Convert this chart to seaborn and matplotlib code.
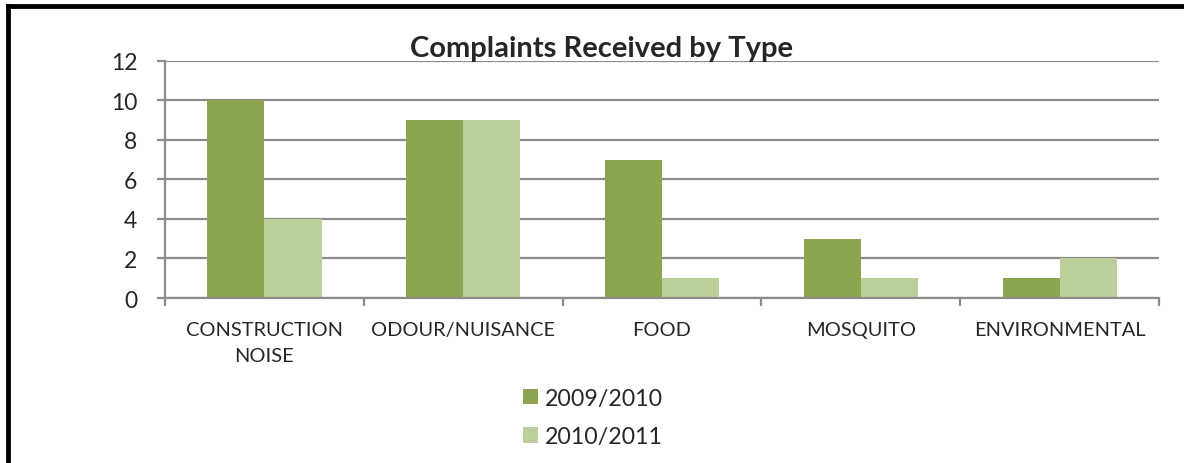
import numpy as np
import pandas as pd
import seaborn as sns
import matplotlib.pyplot as plt
from matplotlib.lines import Line2D

categories = ["CONSTRUCTION\nNOISE", "ODOUR/NUISANCE", "FOOD", "MOSQUITO", "ENVIRONMENTAL"]
years = ["2009/2010", "2010/2011"]
counts_0910 = [10, 9, 7, 3, 1]
counts_1011 = [4, 9, 1, 1, 2]
y_ticks = [0, 2, 4, 6, 8, 10, 12]

palette = ["#8ba64f", "#bbd098"]
grid_col = "#8c8c8c"

df = pd.DataFrame(
    {
        "type": categories * 2,
        "year": [years[0]] * len(categories) + [years[1]] * len(categories),
        "count": counts_0910 + counts_1011,
    }
)

sns.set_style("white")
plt.rcParams["font.family"] = ["Lato", "DejaVu Sans"]

fig = plt.figure(figsize=(11.84, 4.64), dpi=100)
ax = fig.add_axes([0.1394, 0.3556, 0.8395, 0.5108])

sns.barplot(
    data=df, x="type", y="count", hue="year", palette=palette,
    width=0.574, gap=0, edgecolor="none", linewidth=0, saturation=1, ax=ax,
)

# --- axes styling (Excel look)
ax.set_ylim(0, 12)
ax.set_xlim(-0.5, len(categories) - 0.5)
ax.set_yticks(y_ticks)
ax.set_yticklabels([str(v) for v in y_ticks], fontsize=16.5)
ax.yaxis.grid(True, color=grid_col, linewidth=1.6)
ax.set_axisbelow(True)
for s in ["top", "right"]:
    ax.spines[s].set_visible(False)
for s in ["left", "bottom"]:
    ax.spines[s].set_color(grid_col)
    ax.spines[s].set_linewidth(1.6)
ax.tick_params(axis="y", left=True, length=6, width=1.6, color=grid_col, pad=14)
ax.set_xticks(range(len(categories)))
ax.set_xticklabels(categories, fontsize=14.4, linespacing=1.65)
ax.tick_params(axis="x", bottom=False, pad=13)
ax.set_xticks(np.arange(-0.5, len(categories), 1.0), minor=True)
ax.tick_params(axis="x", which="minor", bottom=True, length=6, width=1.6, color=grid_col)
ax.set_xlabel("")
ax.set_ylabel("")

fig.text(0.508, 0.895, "Complaints Received by Type", ha="center", va="center",
         fontsize=21, fontweight="bold")

handles, labels = ax.get_legend_handles_labels()
ax.get_legend().remove()
fig.legend(handles, labels, loc="center", bbox_to_anchor=(0.501, 0.098), ncol=1,
           frameon=False, fontsize=16.7, handlelength=0.65, handleheight=0.65,
           handletextpad=0.3, labelspacing=0.75)

# --- black border on the left and top
fig.add_artist(Line2D([0.0068, 0.0068], [0, 0.985], color="black", lw=3.5,
                      transform=fig.transFigure, solid_capstyle="projecting"))
fig.add_artist(Line2D([0.0068, 1.0], [0.985, 0.985], color="black", lw=3.5,
                      transform=fig.transFigure, solid_capstyle="projecting"))

fig.savefig("out.png", dpi=100, facecolor="white")
